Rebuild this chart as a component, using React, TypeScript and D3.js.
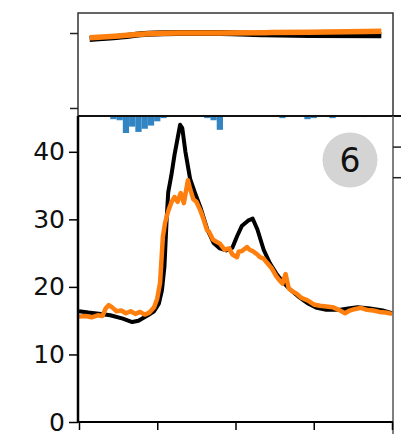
import React, { useEffect, useRef } from 'react';
import * as d3 from 'd3';

// main panel series (x in 0..100, value in chart units)
const blackX = [0, 3, 7, 10, 14, 17, 19, 22, 24, 25.5, 26.5, 27.3, 28, 28.5, 29.5, 30.5, 31.5, 32.3, 33, 34, 35.5, 37, 39, 41, 43, 45, 47, 49, 50.5, 52, 54, 55.5, 57, 59, 61, 63, 65, 67, 70, 73, 76, 79, 83, 86, 89, 93, 97, 100];
const blackY = [16.4, 16.2, 16.0, 15.8, 15.3, 14.8, 15.0, 15.8, 16.4, 17.5, 19.5, 23, 30, 34, 36.5, 39.5, 42, 44, 43.5, 40, 36, 34, 31.5, 28.5, 26.5, 25.7, 25.4, 25.8, 27.5, 29, 29.8, 30.1, 28.5, 25.5, 23.5, 22, 20.8, 19.8, 18.6, 17.6, 16.9, 16.6, 16.6, 16.8, 17.0, 16.8, 16.5, 16.1];

const orangeX = [0, 2, 4, 6, 7.5, 8.5, 9.5, 10.5, 12, 13.5, 15, 16.5, 18, 19.5, 21, 22.5, 24, 25, 25.9, 26.8, 27.5, 28.5, 29.5, 30.5, 31.5, 32.5, 33.5, 34.8, 35.5, 36.5, 37.5, 38.7, 39.5, 40.9, 41.5, 42.8, 43.5, 45, 46.5, 48, 49, 50.5, 51, 52, 53.7, 54.5, 55.5, 57, 57.8, 59, 60, 61.5, 63, 64, 65, 66, 67, 68, 69.5, 71, 73, 75, 77, 79, 81, 83, 85, 86.5, 88, 90, 92, 94, 96, 98, 100];
const orangeY = [15.6, 15.7, 15.5, 15.8, 15.7, 16.8, 17.3, 17.0, 16.4, 16.5, 16.1, 16.4, 16.0, 16.3, 15.9, 16.2, 17.0, 18.3, 20.6, 27.4, 29.5, 31.2, 32.5, 33.3, 32.6, 33.9, 32.4, 35.8, 34.5, 33.0, 32.6, 31.4, 30.4, 28.4, 28.2, 27.0, 26.8, 26.4, 25.5, 25.7, 24.8, 24.4, 25.2, 25.3, 25.9, 25.5, 25.3, 24.8, 24.4, 24.2, 23.6, 22.8, 21.6, 21.0, 20.5, 21.9, 19.8, 19.4, 19.0, 18.4, 18.0, 17.4, 17.2, 17.1, 17.0, 16.6, 16.1, 16.5, 16.7, 16.9, 16.6, 16.5, 16.3, 16.2, 16.0];

// top panel series
const topX = [0, 10, 20, 30, 45, 60, 75, 100];
const topBlack = [0.92, 0.95, 0.99, 1.0, 1.0, 0.985, 0.975, 0.97];
const topOrange = [0.935, 0.96, 0.99, 1.0, 1.0, 1.005, 1.01, 1.025];

// histogram hanging from the top of the main panel (bin start, depth)
const histStart = [10, 12, 14, 16, 18, 20, 22, 24, 26, 40, 42, 44, 64, 72, 74, 80, 90];
const histDepth = [3, 4, 16, 10, 15, 12, 9, 5, 2, 2, 4, 13, 2, 3, 2, 2, 1];
const binWidth = 2;

const yTicks = [0, 10, 20, 30, 40];
const xTicks = [0, 25, 50, 75, 100];
const topTicks = [0, 1];
const sideTicks = [0.9, 0.8];
const badge = '6';

export default function App() {
  const ref = useRef<SVGSVGElement>(null);

  useEffect(() => {
    const svg = d3.select(ref.current);
    svg.selectAll('*').remove();

    const left = 78, right = 393;
    const topY0 = 13, topY1 = 116;
    const mainTop = 116, mainBottom = 422;

    const x = d3.scaleLinear().domain([0, 100]).range([left + 1, right - 1]);
    const y = d3.scaleLinear().domain([0, 45.3]).range([mainBottom, mainTop]);
    const xTop = d3.scaleLinear().domain([-4, 104]).range([left, right]);
    const yTop = d3.scaleLinear().domain([-0.107, 1.267]).range([topY1, topY0]);
    const depth = d3.scaleLinear().domain([0, 16]).range([0, 17]);
    const side = d3.scaleLinear().domain([0, 1]).range([mainBottom, mainTop]);

    const font = 'DejaVu Sans, sans-serif';

    // ---- top panel
    const top = svg.append('g');
    top.append('rect')
      .attr('x', left).attr('y', topY0)
      .attr('width', right - left).attr('height', topY1 - topY0)
      .attr('fill', 'none').attr('stroke', '#333').attr('stroke-width', 1.5);

    top.append('g')
      .attr('transform', `translate(${left},0)`)
      .call(d3.axisLeft(yTop).tickValues(topTicks).tickSize(8).tickFormat(() => ''))
      .call(g => g.select('.domain').remove())
      .call(g => g.selectAll('line').attr('stroke', '#222').attr('stroke-width', 1.5));

    const topLine = (vals: number[]) => d3.line<number>()
      .x((_, i) => xTop(topX[i]))
      .y(d => yTop(d))
      .curve(d3.curveMonotoneX)(vals);

    top.append('path').attr('d', topLine(topBlack))
      .attr('fill', 'none').attr('stroke', '#000').attr('stroke-width', 6);
    top.append('path').attr('d', topLine(topOrange))
      .attr('fill', 'none').attr('stroke', '#ff7f0e').attr('stroke-width', 5.5);

    // ---- main panel
    const main = svg.append('g');

    main.selectAll('.bin')
      .data(histStart)
      .join('rect')
      .attr('class', 'bin')
      .attr('x', d => x(d))
      .attr('y', mainTop)
      .attr('width', x(binWidth) - x(0))
      .attr('height', (_, i) => depth(histDepth[i]))
      .attr('fill', '#3384c2');

    const line = (xs: number[]) => d3.line<number>()
      .x((_, i) => x(xs[i]))
      .y(d => y(d))
      .curve(d3.curveLinear);

    main.append('path').attr('d', line(blackX)(blackY))
      .attr('fill', 'none').attr('stroke', '#000').attr('stroke-width', 4)
      .attr('stroke-linejoin', 'round');
    main.append('path').attr('d', line(orangeX)(orangeY))
      .attr('fill', 'none').attr('stroke', '#ff7f0e').attr('stroke-width', 4.5)
      .attr('stroke-linejoin', 'round');

    // spines
    main.append('line')
      .attr('x1', left).attr('x2', 401).attr('y1', mainTop).attr('y2', mainTop)
      .attr('stroke', '#111').attr('stroke-width', 2);
    main.append('line')
      .attr('x1', right).attr('x2', right).attr('y1', mainTop).attr('y2', 434)
      .attr('stroke', '#555').attr('stroke-width', 1.5);

    main.append('g')
      .attr('transform', `translate(${right},0)`)
      .call(d3.axisRight(side).tickValues(sideTicks).tickSize(8).tickFormat(() => ''))
      .call(g => g.select('.domain').remove())
      .call(g => g.selectAll('line').attr('stroke', '#222').attr('stroke-width', 1.5));

    main.append('g')
      .attr('transform', `translate(${left},0)`)
      .call(d3.axisLeft(y).tickValues(yTicks).tickSize(9).tickPadding(4).tickFormat(d3.format('d')))
      .call(g => g.select('.domain').attr('d', `M0,${mainTop}V${mainBottom}`).attr('stroke', '#000').attr('stroke-width', 2.5))
      .call(g => g.selectAll('line').attr('stroke', '#000').attr('stroke-width', 1.5))
      .call(g => g.selectAll('text').attr('font-size', 25).attr('font-family', font).attr('fill', '#111'));

    main.append('g')
      .attr('transform', `translate(0,${mainBottom})`)
      .call(d3.axisBottom(x).tickValues(xTicks).tickSize(8).tickFormat(() => ''))
      .call(g => g.select('.domain').attr('d', `M${left},0H${right}`).attr('stroke', '#000').attr('stroke-width', 2))
      .call(g => g.selectAll('line').attr('stroke', '#000').attr('stroke-width', 1.5));

    // badge
    main.append('circle')
      .attr('cx', 350).attr('cy', 160).attr('r', 27.5)
      .attr('fill', '#d4d4d4');
    main.append('text')
      .attr('x', 350).attr('y', 160).attr('dy', '0.36em')
      .attr('text-anchor', 'middle')
      .attr('font-family', font).attr('font-size', 33).attr('fill', '#111')
      .text(badge);
  }, []);

  return (
    <svg ref={ref} width={413} height={434}
      style={{ position: 'absolute', left: 0, top: 0, background: '#fff' }} />
  );
}
